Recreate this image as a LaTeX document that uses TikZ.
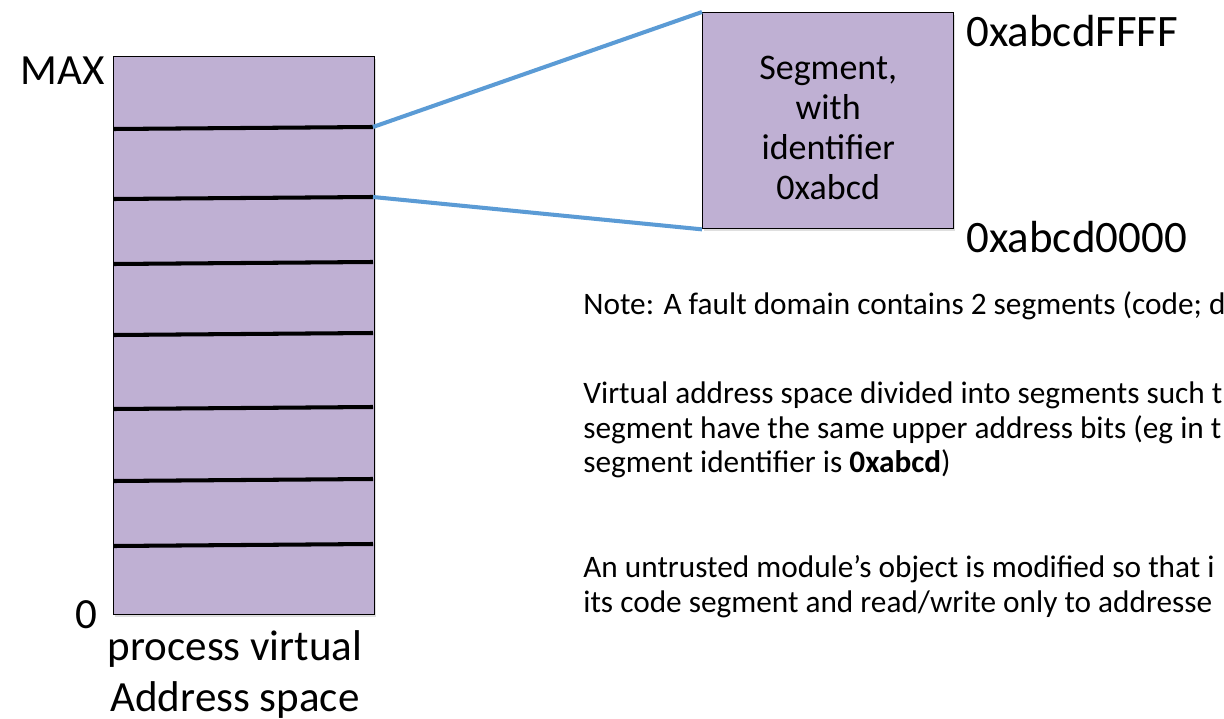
\documentclass[tikz,border=0pt]{standalone}
\usepackage{fontspec}
\setmainfont{Carlito}
\usetikzlibrary{positioning,shadows}
\definecolor{seglilac}{RGB}{191,176,211}
\definecolor{linkblue}{RGB}{91,155,213}
\begin{document}
\begin{tikzpicture}[x=0.02cm, y=-0.02cm, every node/.style={inner sep=0pt}]
    \useasboundingbox (0,0) rectangle (1224,719);
    \clip (0,0) rectangle (1224,719);

    % Address space
    \node[draw, rectangle, fill=seglilac, line width=0.8pt, minimum width=5.22cm, minimum height=11.16cm, anchor=north west, drop shadow={opacity=0.25, shadow xshift=1pt, shadow yshift=-1.5pt}] (vas) at (113,56) {};

    % Segment borders
    \foreach \i/\y in {1/128, 2/198, 3/263, 4/334, 5/408, 6/480, 7/545} {
        \draw[line width=2.3pt] (114,{\y+1}) -- (373,{\y-1}) coordinate (b\i);
    }

    % Zoomed segment
    \node[draw, rectangle, fill=seglilac, line width=0.8pt, minimum width=5.02cm, minimum height=4.32cm, anchor=north west, drop shadow={opacity=0.25, shadow xshift=1pt, shadow yshift=-1.5pt}] (seg) at (702,12) {};
    \node[align=center, font=\fontsize{20.5}{22.8}\selectfont, yshift=-0.14cm] (segtext) at (seg.center) {Segment,\\with\\identifier\\0xabcd};

    % Connections
    \draw[linkblue, line width=2.3pt] (b1) -- (seg.north west);
    \draw[linkblue, line width=2.3pt] (b2) -- (seg.south west);

    % Labels
    \node[anchor=base west, font=\fontsize{24.5}{29.5}\selectfont] (max) at (20,85) {MAX};
    \node[anchor=base west, font=\fontsize{24.5}{29.5}\selectfont] (zero) at (75,628) {0};
    \node[anchor=base, align=center, font=\fontsize{24.5}{28.9}\selectfont] (vaslabel) at (235,711) {process virtual\\Address space};
    \node[anchor=base west, font=\fontsize{25.6}{29.5}\selectfont] (hi) at (966,47) {0xabcdFFFF};
    \node[anchor=base west, font=\fontsize{25.6}{29.5}\selectfont] (lo) at (966,253) {0xabcd0000};

    % Notes
    \node[anchor=base west, font=\fontsize{17.8}{20}\selectfont] (note) at (583,315) {Note: A fault domain contains 2 segments (code; d};
    \node[anchor=base west, align=left, font=\fontsize{17.8}{19.8}\selectfont] (split) at (583,473) {Virtual address space divided into segments such t\\segment have the same upper address bits (eg in t\\segment identifier is \textbf{0xabcd})};
    \node[anchor=base west, align=left, font=\fontsize{17.8}{19.8}\selectfont] (rewrite) at (583,612) {An untrusted module’s object is modified so that i\\its code segment and read/write only to addresse};
\end{tikzpicture}
\end{document}
